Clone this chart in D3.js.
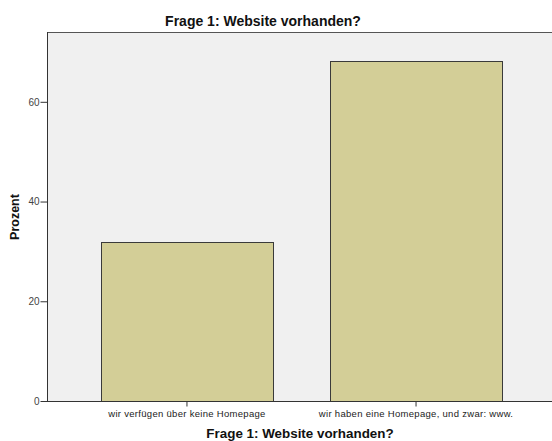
<!DOCTYPE html>
<html><head><meta charset="utf-8">
<script src="https://cdn.jsdelivr.net/npm/d3@7"></script>
<style>body{margin:0;background:#fff}svg{display:block}</style>
</head><body>
<svg id="c" width="552" height="441"></svg>
<script>
const categories = ["wir verfügen über keine Homepage", "wir haben eine Homepage, und zwar: www."];
const values = [31.9, 68.1];
const yTicks = [0, 20, 40, 60];
const chartTitle = "Frage 1: Website vorhanden?";
const xTitle = "Frage 1: Website vorhanden?";
const yTitle = "Prozent";

const svg = d3.select("#c");
const L = 47, R = 556, T = 32, B = 401;
const font = "'Liberation Sans', Arial, sans-serif";

const x = d3.scaleBand().domain(categories).range([L, R]).paddingInner(0.25).paddingOuter(0.236);
const y = d3.scaleLinear().domain([0, 74]).range([B, T]);

svg.append("rect").attr("x", L).attr("y", T).attr("width", R - L).attr("height", B - T)
  .attr("fill", "#f0f0f0");
svg.append("line").attr("x1", L).attr("x2", R).attr("y1", T + 0.5).attr("y2", T + 0.5)
  .attr("stroke", "#555").attr("stroke-width", 1);

svg.selectAll("rect.bar").data(values).enter().append("rect").attr("class", "bar")
  .attr("x", (d, i) => Math.round(x(categories[i])) + 0.5)
  .attr("y", d => Math.round(y(d)) + 0.5)
  .attr("width", Math.round(x.bandwidth()))
  .attr("height", d => Math.round(B - y(d)))
  .attr("fill", "#d3ce97").attr("stroke", "#3a3a3a").attr("stroke-width", 1);

const yAxis = svg.append("g").attr("transform", `translate(${L + 0.5},0)`)
  .call(d3.axisLeft(y).tickValues(yTicks).tickSize(7).tickPadding(1).tickFormat(d3.format("d")));
yAxis.select(".domain").attr("stroke", "#333").attr("d", `M0,${T}V${B}`);
yAxis.selectAll(".tick line").attr("stroke", "#333");
yAxis.selectAll(".tick text").attr("font-family", font).attr("font-size", 10).attr("fill", "#444");

const xAxis = svg.append("g").attr("transform", `translate(0,${B + 0.5})`)
  .call(d3.axisBottom(x).tickSize(5).tickPadding(4));
xAxis.select(".domain").attr("stroke", "#333").attr("d", `M${L},0H${R}`);
xAxis.selectAll(".tick line").attr("stroke", "#333");
xAxis.selectAll(".tick text").attr("font-family", font).attr("font-size", 9.5)
  .attr("letter-spacing", 0.3).attr("fill", "#222");

svg.append("text").attr("x", 263).attr("y", 26).attr("text-anchor", "middle")
  .attr("font-family", font).attr("font-weight", "bold").attr("font-size", 14).attr("fill", "#111")
  .text(chartTitle);
svg.append("text").attr("x", 300).attr("y", 438).attr("text-anchor", "middle")
  .attr("font-family", font).attr("font-weight", "bold").attr("font-size", 13.4).attr("fill", "#111")
  .text(xTitle);
svg.append("text").attr("transform", "translate(19,217) rotate(-90)").attr("text-anchor", "middle")
  .attr("font-family", font).attr("font-weight", "bold").attr("font-size", 12.5).attr("fill", "#111")
  .text(yTitle);
</script>
</body></html>
